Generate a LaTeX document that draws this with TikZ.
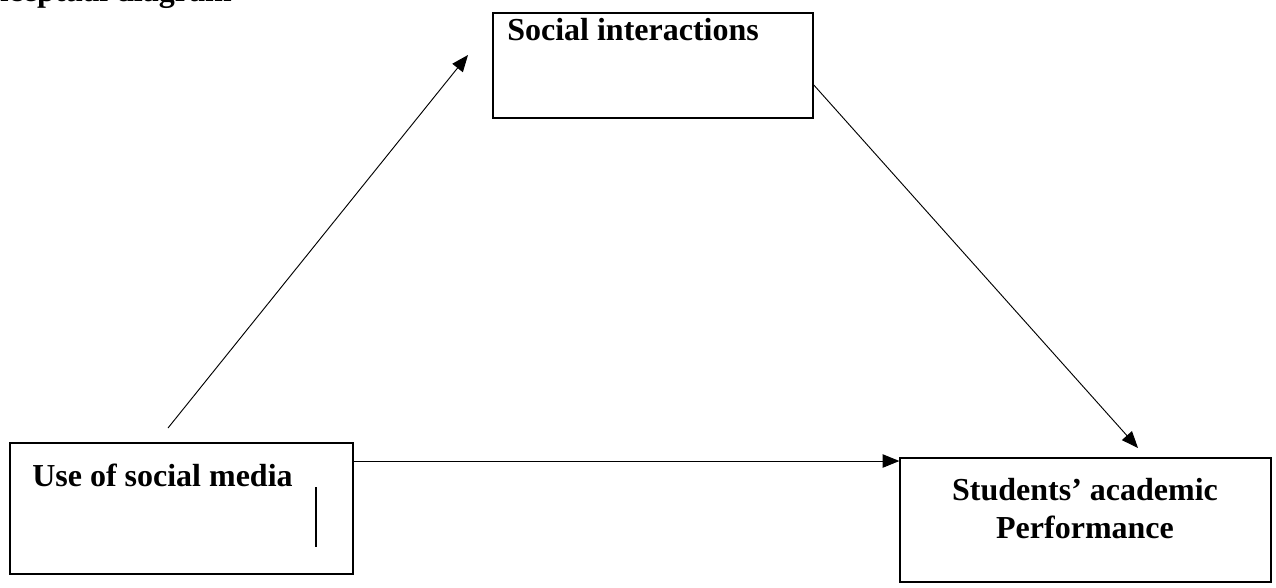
\documentclass[tikz,border=0pt]{standalone}
\usepackage{fontspec}
\setmainfont{Liberation Serif}
\usetikzlibrary{positioning,calc,arrows.meta}

\tikzset{
    box/.style={draw, line width=1.2pt, inner sep=0pt},
    lbl/.style={font=\fontsize{24}{28.5}\selectfont\bfseries, inner sep=0pt},
    link/.style={line width=0.7pt, -{Triangle[length=12.5pt, width=10pt]}}
}

\begin{document}
\begin{tikzpicture}[x=0.75pt, y=-0.75pt]
    \useasboundingbox (0, 0) rectangle (1276, 587);
    \node [lbl, anchor=base east] (title) at (232, 1) {Conceptual diagram}; % cut at top
    % Boxes
    \node [box, minimum width=240pt, minimum height=79pt] (soc) at (653, 65.5) {};
    \node [box, minimum width=257pt, minimum height=98pt] (use) at (181.5, 508.5) {};
    \node [box, minimum width=278pt, minimum height=93pt] (perf) at (1085.5, 520) {};
    \node [lbl, anchor=base west] (soctxt) at (507, 40) {Social interactions};
    \node [lbl, anchor=base west] (usetxt) at (32, 486) {Use of social media};
    \node [lbl, align=center, anchor=base] (perftxt) at (1085, 538) {Students’ academic\\Performance};
    \draw [line width=1pt] (316, 487) -- (316, 547); % stray bar
    % Free ends of the arrows
    \coordinate (usetop) at (168, 428);
    \coordinate (soctip) at (468, 55);
    \coordinate (perftip) at (1138, 448);
    \draw [link] (usetop) -- (soctip);
    \draw [link] (soc.east |- 0, 85) -- (perftip);
    \draw [link] (use.east |- 0, 461) -- (perf.west |- 0, 461);
\end{tikzpicture}
\end{document}
